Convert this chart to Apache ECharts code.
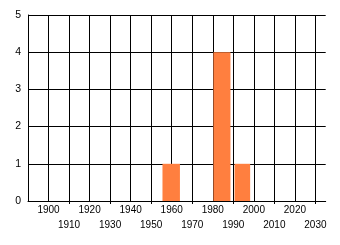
<!DOCTYPE html>
<html>
<head>
<meta charset="utf-8">
<script src="https://cdn.jsdelivr.net/npm/echarts@6/dist/echarts.min.js"></script>
<style>html,body{margin:0;padding:0;background:#fff}#c{width:340px;height:245px}</style>
</head>
<body>
<div id="c"></div>
<script>
// bins: [start year, end year, count]
var binStarts = [1955.5, 1980.3, 1990.6];
var binEnds   = [1964.0, 1988.6, 1998.2];
var counts    = [1, 4, 1];
var upperLabels = [1900, 1920, 1940, 1960, 1980, 2000, 2020];
var lowerLabels = [1910, 1930, 1950, 1970, 1990, 2010, 2030];
var yTicks = [0, 1, 2, 3, 4, 5];

var data = binStarts.map(function (s, i) { return [s, binEnds[i], counts[i]]; });
var font = 'Liberation Sans';
var plain = function (v) { return String(v); };
var chart = echarts.init(document.getElementById('c'), null, {renderer: 'canvas'});
chart.setOption({
  animation: false,
  grid: {left: 28, right: 14.3, top: 15, bottom: 44},
  xAxis: [{
    type: 'value', min: 1890, max: 2035, interval: 10,
    axisLine: {show: true, lineStyle: {color: '#000', width: 1}},
    axisTick: {show: false},
    splitLine: {show: true, showMinLine: true, showMaxLine: false, lineStyle: {color: '#000', width: 1}},
    axisLabel: {customValues: upperLabels, margin: 4, color: '#000', fontSize: 10, fontFamily: font,
      formatter: plain, showMinLabel: true, showMaxLabel: true}
  }, {
    type: 'value', min: 1890, max: 2035, position: 'bottom',
    axisLine: {show: false},
    axisTick: {show: true, customValues: lowerLabels, length: 3, lineStyle: {color: '#000', width: 1}},
    splitLine: {show: false},
    axisLabel: {customValues: lowerLabels, margin: 19, color: '#000', fontSize: 10, fontFamily: font,
      formatter: plain, showMinLabel: true, showMaxLabel: true}
  }],
  yAxis: {
    type: 'value', min: yTicks[0], max: yTicks[yTicks.length - 1], interval: 1,
    axisLine: {show: true, lineStyle: {color: '#000', width: 1}},
    axisTick: {show: false},
    splitLine: {show: true, showMinLine: true, showMaxLine: true, lineStyle: {color: '#000', width: 1}},
    axisLabel: {margin: 7, color: '#000', fontSize: 10.5, fontFamily: font, formatter: plain}
  },
  series: [{
    type: 'custom',
    xAxisIndex: 0,
    z: 5,
    data: data,
    encode: {x: [0, 1], y: 2},
    renderItem: function (params, api) {
      var p0 = api.coord([api.value(0), api.value(2)]);
      var p1 = api.coord([api.value(1), 0]);
      return {
        type: 'rect',
        shape: {x: p0[0], y: p0[1], width: p1[0] - p0[0], height: p1[1] - p0[1]},
        style: {fill: '#ff7f3f'}
      };
    }
  }]
});
</script>
</body>
</html>
